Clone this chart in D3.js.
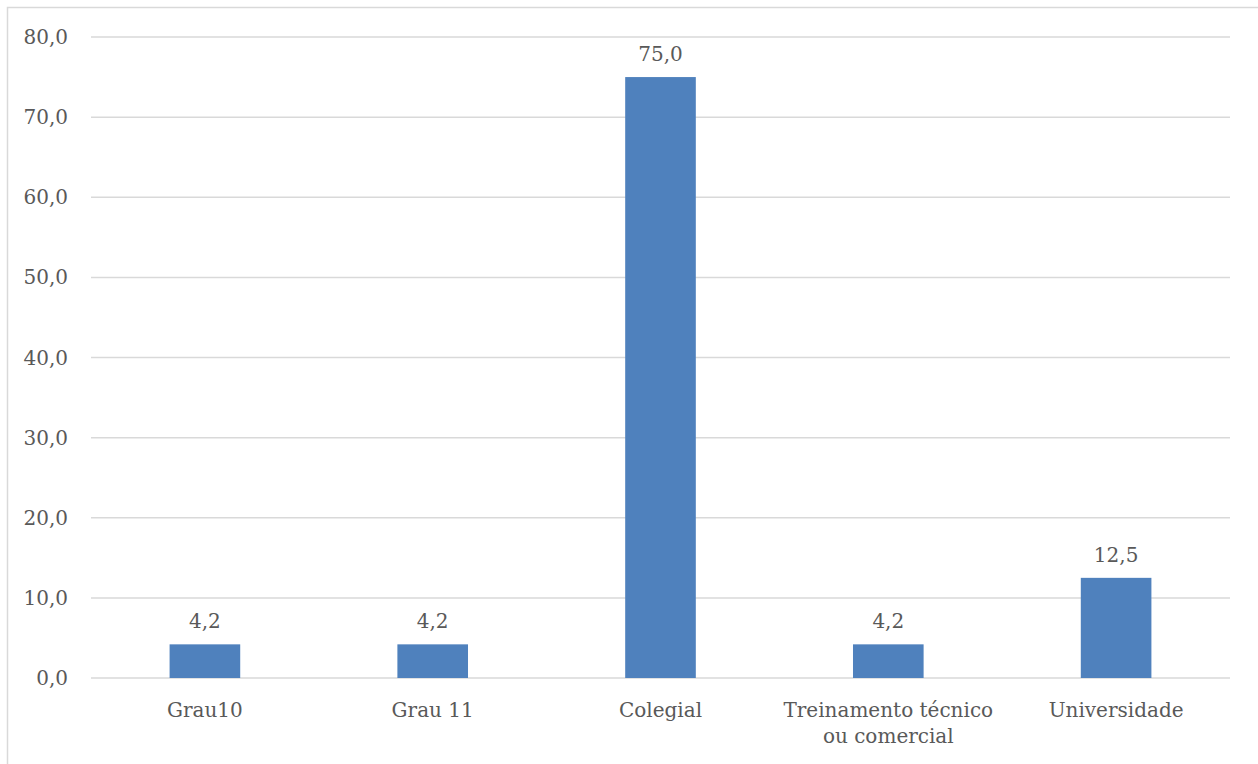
<!DOCTYPE html>
<html>
<head>
<meta charset="utf-8">
<script src="https://cdnjs.cloudflare.com/ajax/libs/d3/7.8.5/d3.min.js"></script>
<style>
  body { margin: 0; background: #fff; }
  text { font-family: "DejaVu Serif", serif; fill: #595959; }
</style>
</head>
<body>
<div id="chart"></div>
<script>
var categories = ["Grau10", "Grau 11", "Colegial", "Treinamento técnico\nou comercial", "Universidade"];
var values = [4.2, 4.2, 75.0, 4.2, 12.5];
var yTicks = [0, 10, 20, 30, 40, 50, 60, 70, 80];

(function() {
  var W = 1258, H = 764;
  var margin = {top: 37, left: 91, right: 28, bottom: 86};
  var width = W - margin.left - margin.right,
      height = H - margin.top - margin.bottom;

  var svg = d3.select("#chart").append("svg")
      .attr("width", W).attr("height", H);

  // outer chart border (only top/left visible in frame)
  svg.append("rect")
      .attr("x", 7.5).attr("y", 7.5)
      .attr("width", W + 20).attr("height", H + 20)
      .attr("fill", "none").attr("stroke", "#d9d9d9").attr("stroke-width", 1.5);

  var g = svg.append("g")
      .attr("transform", "translate(" + margin.left + "," + margin.top + ")");

  var x = d3.scaleBand().domain(categories).range([0, width]).paddingInner(0.69).paddingOuter(0.345);
  var y = d3.scaleLinear().domain([0, 80]).range([height, 0]);

  // gridlines
  g.selectAll(".grid").data(yTicks).enter().append("line")
      .attr("x1", 0).attr("x2", width)
      .attr("y1", d => y(d)).attr("y2", d => y(d))
      .attr("stroke", "#d9d9d9").attr("stroke-width", 1.5);

  // y tick labels
  g.selectAll(".ytick").data(yTicks).enter().append("text")
      .attr("x", -23).attr("y", d => y(d)).attr("dy", "0.35em")
      .attr("text-anchor", "end").style("font-size", "20px")
      .text(d => d3.format(".1f")(d).replace(".", ","));

  // bars
  g.selectAll(".bar").data(values).enter().append("rect")
      .attr("x", (d, i) => x(categories[i]))
      .attr("y", d => y(d))
      .attr("width", x.bandwidth())
      .attr("height", d => height - y(d))
      .attr("fill", "#4f81bd");

  // data labels
  g.selectAll(".lbl").data(values).enter().append("text")
      .attr("x", (d, i) => x(categories[i]) + x.bandwidth() / 2)
      .attr("y", d => y(d) - 16)
      .attr("text-anchor", "middle").style("font-size", "20px")
      .text(d => d3.format(".1f")(d).replace(".", ","));

  // x labels
  var xl = g.selectAll(".xl").data(categories).enter().append("text")
      .attr("transform", d => "translate(" + (x(d) + x.bandwidth() / 2) + "," + (height + 39) + ")")
      .attr("text-anchor", "middle").style("font-size", "20px");
  xl.selectAll("tspan").data(d => d.split("\n")).enter().append("tspan")
      .attr("x", 0).attr("dy", (d, i) => i ? "1.3em" : 0)
      .text(d => d);
})();
</script>
</body>
</html>
